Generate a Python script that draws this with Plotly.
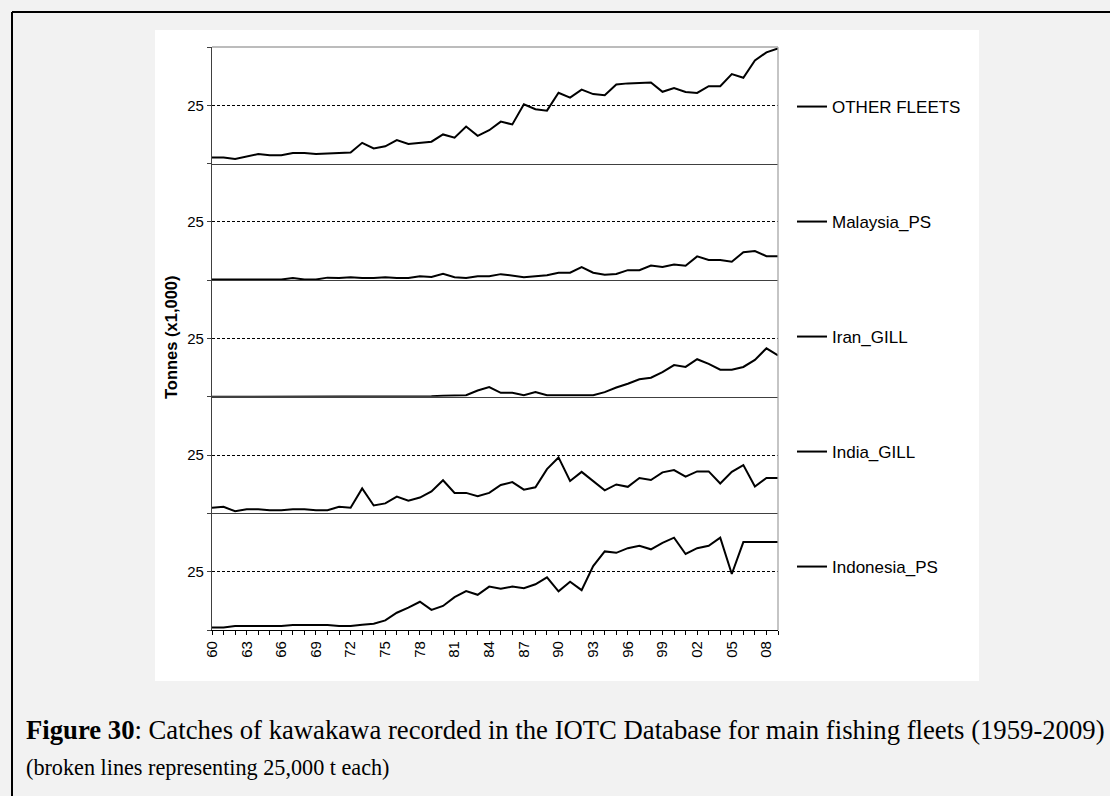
import plotly.graph_objects as go
from plotly.subplots import make_subplots

# ---------------- data (thousand tonnes) ----------------
years = list(range(1960, 2010))
tick_years = list(range(1960, 2010, 3))
tick_labels = ["60", "63", "66", "69", "72", "75", "78", "81", "84", "87",
               "90", "93", "96", "99", "02", "05", "08"]

series_names = ["OTHER FLEETS", "Malaysia_PS", "Iran_GILL", "India_GILL", "Indonesia_PS"]

other_fleets = [2.6, 2.6, 2.0, 3.1, 4.1, 3.6, 3.6, 4.5, 4.5, 4.1,
                4.4, 4.4, 4.8, 8.9, 6.5, 7.4, 10.1, 8.4, 8.8, 9.4,
                12.5, 11.1, 15.9, 11.9, 14.3, 18.0, 16.8, 25.4, 23.3, 22.7,
                30.4, 28.3, 31.7, 29.8, 29.3, 33.9, 34.4, 34.7, 34.8, 30.8,
                32.4, 30.7, 30.3, 33.2, 33.2, 38.4, 36.8, 44.2, 47.7, 49.4]
malaysia_ps = [0.3, 0.3, 0.3, 0.3, 0.3, 0.3, 0.3, 0.9, 0.3, 0.3,
               1.1, 0.9, 1.3, 0.9, 0.9, 1.3, 0.9, 0.9, 1.7, 1.4,
               2.7, 1.3, 0.9, 1.7, 1.7, 2.6, 2.1, 1.3, 1.7, 2.1,
               3.2, 3.2, 5.6, 3.2, 2.3, 2.7, 4.3, 4.3, 6.3, 5.7,
               6.7, 6.2, 10.2, 8.7, 8.7, 7.9, 12.0, 12.5, 10.3, 10.3]
iran_gill = [0, 0, 0, 0, 0, 0, 0, 0, 0, 0,
             0, 0, 0, 0, 0, 0, 0, 0, 0, 0.2,
             0.5, 0.7, 0.7, 2.7, 4.2, 1.7, 1.7, 0.7, 2.0, 0.7,
             0.7, 0.7, 0.7, 0.7, 2.0, 4.0, 5.6, 7.5, 8.2, 10.6,
             13.6, 12.8, 16.1, 14.1, 11.6, 11.6, 12.8, 15.8, 20.8, 17.7]
india_gill = [2.4, 2.8, 0.9, 1.8, 1.8, 1.4, 1.4, 1.8, 1.8, 1.4,
              1.4, 2.8, 2.4, 10.7, 3.4, 4.3, 7.2, 5.4, 6.8, 9.4,
              14.2, 8.8, 8.8, 7.4, 8.8, 12.2, 13.4, 10.2, 11.2, 19.0,
              24.0, 13.9, 17.8, 13.8, 9.9, 12.4, 11.4, 15.2, 14.3, 17.6,
              18.6, 15.8, 18.0, 18.0, 12.8, 17.8, 20.7, 11.5, 15.2, 15.2]
indonesia_ps = [1.1, 1.1, 1.7, 1.7, 1.7, 1.7, 1.7, 2.1, 2.1, 2.1,
                2.1, 1.7, 1.7, 2.3, 2.7, 4.1, 7.4, 9.6, 12.1, 8.6,
                10.3, 14.1, 16.7, 15.1, 18.6, 17.7, 18.6, 17.9, 19.6, 22.6,
                16.6, 20.7, 17.1, 27.4, 33.7, 33.1, 35.1, 36.1, 34.6, 37.4,
                39.6, 32.6, 35.1, 36.1, 39.6, 24.0, 37.7, 37.7, 37.7, 37.7]

series_values = [other_fleets, malaysia_ps, iran_gill, india_gill, indonesia_ps]

# ---------------- layout helpers (pixel -> paper) ----------------
W, H = 1110, 796
PL, PR, PT, PB = 212, 778, 47, 630


def px(x):
    return (x - PL) / (PR - PL)


def py(y):
    return (PB - y) / (PB - PT)


SANS = "Liberation Sans, Arial, sans-serif"
SERIF = "Liberation Serif, Times New Roman, serif"

fig = make_subplots(rows=5, cols=1, shared_xaxes=True, vertical_spacing=0)

legend_centers = [107, 222, 337, 452, 567]

for i, (name, vals) in enumerate(zip(series_names, series_values)):
    row = i + 1
    lg = "legend" if i == 0 else f"legend{i + 1}"
    fig.add_trace(go.Scatter(x=years, y=vals, mode="lines", name=name,
                             line=dict(color="black", width=2),
                             legend=lg, showlegend=True,
                             hoverinfo="skip"), row=row, col=1)
    fig.update_yaxes(range=[0, 50], tickmode="array", tickvals=[25], ticktext=["25"],
                     ticks="outside", ticklen=4, tickcolor="#404040",
                     showgrid=True, gridcolor="black", gridwidth=1, griddash="3px,2px",
                     minor=dict(tickmode="linear", tick0=0, dtick=25, ticks="outside",
                                ticklen=4, tickcolor="#404040", showgrid=False),
                     zeroline=False, showline=True, linecolor="#404040", linewidth=1.3,
                     tickfont=dict(family=SANS, size=15, color="black"),
                     row=row, col=1)
    fig.update_xaxes(range=[1960, 2009], showline=True, linecolor="#404040", linewidth=1.3,
                     showgrid=False, zeroline=False, showticklabels=False, ticks="",
                     row=row, col=1)
    leg = dict(x=px(792), xanchor="left", y=py(legend_centers[i]), yanchor="middle",
               bgcolor="rgba(0,0,0,0)", borderwidth=0,
               font=dict(family=SANS, size=17, color="black"))
    fig.update_layout(**{lg: leg})

fig.update_xaxes(showticklabels=True, tickmode="array", tickvals=tick_years, ticktext=tick_labels,
                 ticks="outside", ticklen=4, tickcolor="black", linecolor="black",
                 tickangle=-90, tickfont=dict(family=SANS, size=15, color="black"),
                 minor=dict(tickmode="linear", tick0=1960, dtick=1, ticks="outside",
                            ticklen=4, tickcolor="black", showgrid=False),
                 row=5, col=1)

shapes = [
    # white chart area
    dict(type="rect", xref="paper", yref="paper", x0=px(155), x1=px(979), y0=py(681), y1=py(30),
         fillcolor="white", line=dict(width=0), layer="below"),
    # plot area top and right borders
    dict(type="line", xref="paper", yref="paper", x0=0, x1=1, y0=1, y1=1,
         line=dict(color="#a6a6a6", width=1.3)),
    dict(type="line", xref="paper", yref="paper", x0=1, x1=1, y0=0, y1=1,
         line=dict(color="#a6a6a6", width=1.3)),
    # outer frame (top and left)
    dict(type="line", xref="paper", yref="paper", x0=px(12), x1=px(1130), y0=py(12), y1=py(12),
         line=dict(color="black", width=2)),
    dict(type="line", xref="paper", yref="paper", x0=px(12), x1=px(12), y0=py(12), y1=py(820),
         line=dict(color="black", width=2)),
]

annotations = [
    dict(text="<b>Tonnes (x1,000)</b>", textangle=-90, x=px(171), y=py(338),
         xref="paper", yref="paper", showarrow=False, xanchor="center", yanchor="middle",
         font=dict(family=SANS, size=16.5, color="black")),
    dict(text="<b>Figure 30</b>: Catches of kawakawa recorded in the IOTC Database for main fishing fleets (1959-2009)",
         x=px(24), y=py(730), xref="paper", yref="paper", showarrow=False,
         xanchor="left", yanchor="middle", font=dict(family=SERIF, size=26.7, color="black")),
    dict(text="(broken lines representing 25,000 t each)",
         x=px(24), y=py(767), xref="paper", yref="paper", showarrow=False,
         xanchor="left", yanchor="middle", font=dict(family=SERIF, size=22.2, color="black")),
]

fig.update_layout(
    width=W, height=H, autosize=False,
    margin=dict(l=PL, r=W - PR, t=PT, b=H - PB, pad=0),
    paper_bgcolor="#f2f2f2", plot_bgcolor="white",
    shapes=shapes, annotations=annotations,
    showlegend=True,
)

fig.write_html("out.html", config={"displayModeBar": False},
               post_script="document.body.style.margin='0';")
